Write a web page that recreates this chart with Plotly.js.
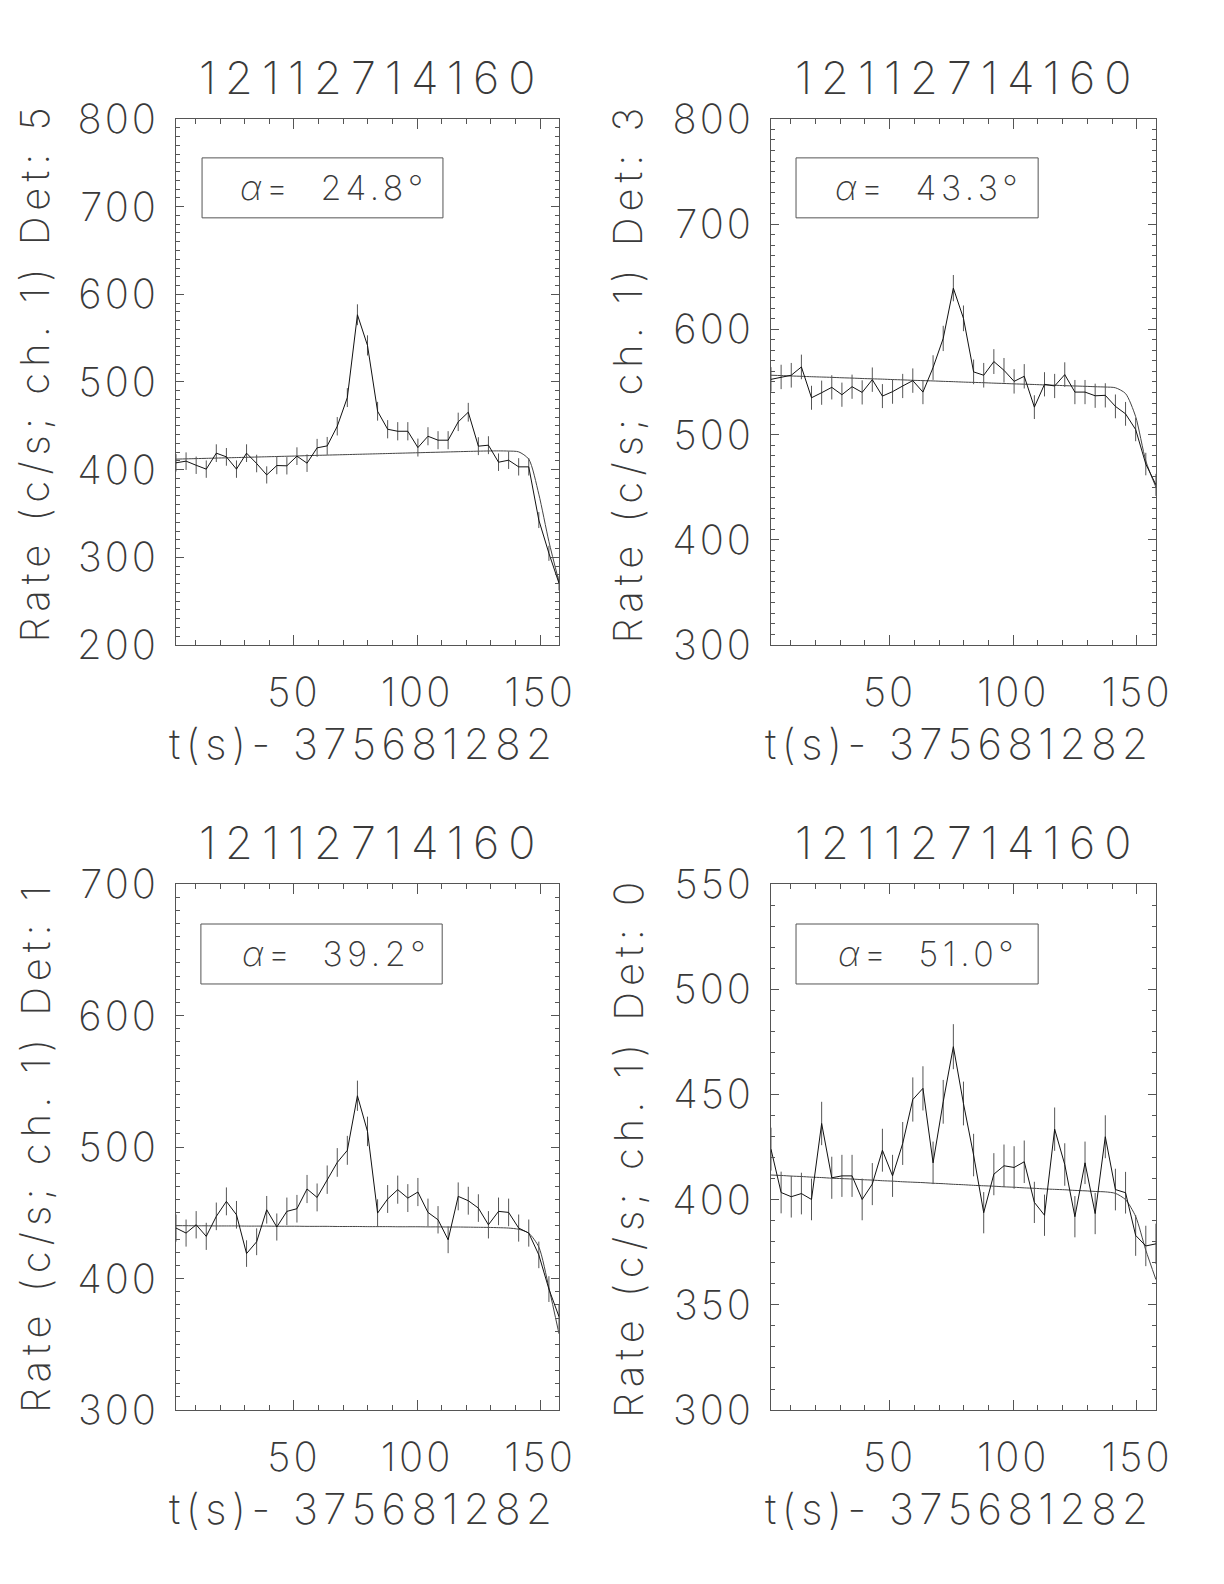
<!DOCTYPE html>
<html>
<head>
<meta charset="utf-8">
<script src="https://cdn.plot.ly/plotly-3.0.1.min.js"></script>
<style>
  html, body { margin: 0; padding: 0; background: #fff; }
  .main-svg text { letter-spacing: 3px; }
</style>
</head>
<body>
<div id="chart" style="width:1224px;height:1584px;"></div>
<script>
// ---------------- data ----------------
const timeOffsets = [2.05, 6.14, 10.24, 14.34, 18.43, 22.53, 26.62, 30.72, 34.82, 38.91, 43.01, 47.10, 51.20, 55.30, 59.39, 63.49, 67.58, 71.68, 75.78, 79.87, 83.97, 88.06, 92.16, 96.26, 100.35, 104.45, 108.54, 112.64, 116.74, 120.83, 124.93, 129.02, 133.12, 137.22, 141.31, 145.41, 149.50, 153.60, 157.70];

const plotTitle = "12112714160";
const xAxisTitle = "t(s)- 375681282";
const xTickValues = [50, 100, 150];

const detectorLabels = ["Det: 5", "Det: 3", "Det: 1", "Det: 0"];
const alphaAngles = ["24.8", "43.3", "39.2", "51.0"];
const yRanges = [[200, 800], [300, 800], [300, 700], [300, 550]];
const yTickSteps = [100, 100, 100, 50];

const rateDet5 = [407.8, 409.7, 405, 400.6, 418.8, 414.6, 400.6, 418.8, 407, 394, 404.7, 404.4, 415.4, 407.4, 424.9, 427.1, 449.5, 482.2, 576.7, 541.7, 466.6, 446.1, 443.8, 443.8, 425.2, 438.1, 433.6, 433.6, 454.5, 465.5, 426.8, 427.9, 408.5, 410.8, 403.2, 403.2, 342.5, 304.6, 270.4];
const errDet5 = [9.9, 10, 9.9, 9.9, 10.1, 10.1, 9.9, 10.1, 10, 9.8, 9.9, 9.9, 10.1, 10, 10.2, 10.2, 10.5, 10.8, 11.9, 11.5, 10.7, 10.4, 10.4, 10.4, 10.2, 10.3, 10.3, 10.3, 10.5, 10.7, 10.2, 10.2, 10, 10, 9.9, 9.9, 9.1, 8.6, 8.1];
const modelDet5 = [412.0, 412.3, 412.6, 412.9, 413.2, 413.5, 413.8, 414.1, 414.4, 414.7, 415.0, 415.3, 415.6, 416.0, 416.3, 416.6, 416.9, 417.2, 417.5, 417.8, 418.1, 418.4, 418.7, 419.0, 419.3, 419.6, 419.9, 420.2, 420.5, 420.8, 421.1, 421.3, 421.4, 421.2, 420.3, 412, 372, 318, 272];

const rateDet3 = [552.5, 554.8, 556.4, 564.3, 535, 539.8, 544.9, 537.9, 545.5, 540.1, 552.2, 536.6, 540.8, 546.2, 551.3, 540.4, 563.7, 591.4, 639.2, 610.5, 559.6, 556.4, 569.4, 561.1, 550.6, 555.4, 526.1, 547.8, 546.2, 557, 540.4, 540.4, 536.9, 537.3, 526.8, 519.7, 504.8, 472, 452.2];
const errDet3 = [11.6, 11.6, 11.7, 11.7, 11.4, 11.5, 11.5, 11.5, 11.5, 11.5, 11.6, 11.4, 11.5, 11.5, 11.6, 11.5, 11.7, 12, 12.5, 12.2, 11.7, 11.7, 11.8, 11.7, 11.6, 11.6, 11.3, 11.5, 11.5, 11.7, 11.5, 11.5, 11.5, 11.5, 11.3, 11.3, 11.1, 10.7, 10.5];
const modelDet3 = [556.4, 556.1, 555.7, 555.4, 555.0, 554.7, 554.4, 554.0, 553.7, 553.3, 553.0, 552.7, 552.3, 552.0, 551.6, 551.3, 551.0, 550.6, 550.3, 549.9, 549.6, 549.3, 548.9, 548.6, 548.2, 547.9, 547.6, 547.2, 546.9, 546.5, 546.2, 545.9, 545.5, 545.2, 544.5, 539.0, 517.0, 475.0, 450.0];

const rateDet1 = [438.4, 434.6, 440.9, 432.1, 447.3, 458.7, 448.5, 419, 428, 452.3, 439.2, 451.1, 453.1, 468.1, 461.7, 475.2, 488.3, 497.5, 539, 511.9, 449.8, 460.5, 467.6, 461.2, 465.8, 450.3, 444.7, 429.5, 462.5, 459.2, 453.6, 440.9, 451.1, 450.3, 438.4, 434.6, 418, 392, 371];
const errDet1 = [10.3, 10.3, 10.4, 10.3, 10.5, 10.6, 10.5, 10.1, 10.2, 10.5, 10.3, 10.5, 10.5, 10.7, 10.6, 10.8, 10.9, 11, 11.5, 11.2, 10.5, 10.6, 10.7, 10.6, 10.7, 10.5, 10.4, 10.2, 10.6, 10.6, 10.5, 10.4, 10.5, 10.5, 10.3, 10.3, 10.1, 9.8, 9.5];
const modelDet1 = [440.2, 440.2, 440.1, 440.1, 440.0, 440.0, 440.0, 439.9, 439.9, 439.9, 439.8, 439.8, 439.8, 439.7, 439.7, 439.7, 439.6, 439.6, 439.6, 439.5, 439.5, 439.5, 439.4, 439.4, 439.4, 439.3, 439.3, 439.2, 439.2, 439.1, 439.0, 438.9, 438.7, 438.4, 437.5, 434.5, 424, 393, 358];

const rateDet0 = [424, 403.4, 401.4, 402.9, 400.1, 436.2, 410.4, 411.3, 411.3, 400.1, 407.4, 423.5, 411.3, 426.7, 447.6, 452.9, 417.5, 446.5, 472.7, 445.7, 421.2, 393.8, 412.1, 416.1, 415.3, 418, 398.7, 392.6, 433.5, 416.7, 391.9, 417.5, 393.4, 429.9, 404.8, 403.3, 383, 378, 379];
const errDet0 = [10.2, 9.9, 9.9, 9.9, 9.9, 10.3, 10, 10, 10, 9.9, 10, 10.2, 10, 10.2, 10.5, 10.5, 10.1, 10.4, 10.7, 10.4, 10.1, 9.8, 10, 10.1, 10.1, 10.1, 9.8, 9.8, 10.3, 10.1, 9.8, 10.1, 9.8, 10.2, 9.9, 9.9, 9.7, 9.6, 9.6];
const modelDet0 = [411.7, 411.5, 411.2, 411.0, 410.7, 410.5, 410.2, 410.0, 409.8, 409.5, 409.3, 409.0, 408.8, 408.5, 408.3, 408.1, 407.8, 407.6, 407.3, 407.1, 406.8, 406.6, 406.4, 406.1, 405.9, 405.6, 405.4, 405.1, 404.9, 404.7, 404.4, 404.2, 403.9, 403.7, 403.0, 400.0, 392.0, 376.0, 362.0];

const rates = [rateDet5, rateDet3, rateDet1, rateDet0];
const errors = [errDet5, errDet3, errDet1, errDet0];
const models = [modelDet5, modelDet3, modelDet1, modelDet0];

// ---------------- layout helpers ----------------
const FONT = "Inter, Roboto, 'DejaVu Sans', Arial, sans-serif";
const TXT = "#3a3a3a";
const AX = "#555";
const W = 200;

const xDomains = [[0.1438, 0.4567], [0.6299, 0.9444], [0.1438, 0.4567], [0.6299, 0.9444]];
const yDomains = [[0.5928, 0.9249], [0.5928, 0.9249], [0.1098, 0.4419], [0.1098, 0.4419]];
const yTitleX = [0.0286, 0.513, 0.0286, 0.513];
const yTitleY = [0.518, 0.518, 0.5, 0.5];
const boxX = [[0.068, 0.697], [0.065, 0.694], [0.065, 0.695], [0.065, 0.694]];
const boxY = [[0.812, 0.926], [0.812, 0.926], [0.810, 0.924], [0.810, 0.924]];
const alphaTextX = [0.412, 0.408, 0.417, 0.408];

function spaced(t, px) { return '<span style="letter-spacing:' + px + 'px">' + t + '</span>'; }

const traces = [];
const layout = {
  width: 1224, height: 1584,
  margin: {l: 0, r: 0, t: 0, b: 0},
  paper_bgcolor: "#fff", plot_bgcolor: "#fff",
  showlegend: false,
  font: {family: FONT, size: 40, color: TXT, weight: W},
  annotations: [], shapes: []
};

for (let k = 0; k < 4; k++) {
  const s = k === 0 ? "" : String(k + 1);
  const xa = "x" + s, ya = "y" + s;
  traces.push({
    x: timeOffsets, y: models[k], xaxis: xa, yaxis: ya,
    type: "scatter", mode: "lines",
    line: {color: "#444", width: 1, shape: "spline", smoothing: 0.7},
    hoverinfo: "skip"
  });
  traces.push({
    x: timeOffsets, y: rates[k], xaxis: xa, yaxis: ya,
    type: "scatter", mode: "lines",
    line: {color: "#111", width: 1},
    error_y: {type: "data", array: errors[k], visible: true, color: "#555", thickness: 1, width: 0}
  });

  layout["xaxis" + s] = {
    domain: xDomains[k], anchor: ya,
    range: [timeOffsets[0], timeOffsets[timeOffsets.length - 1]],
    tickmode: "linear", tick0: 0, dtick: xTickValues[1] - xTickValues[0],
    showline: true, linecolor: AX, linewidth: 1, mirror: "allticks",
    ticks: "inside", ticklen: 10, tickwidth: 1, tickcolor: AX,
    minor: {dtick: 10, tick0: 0, ticks: "inside", ticklen: 5, tickwidth: 1, tickcolor: AX, showgrid: false},
    showgrid: false, zeroline: false,
    tickfont: {family: FONT, size: 40, color: TXT, weight: W},
    ticklabelstandoff: 12
  };
  layout["yaxis" + s] = {
    domain: yDomains[k], anchor: xa,
    range: yRanges[k],
    tickmode: "linear", tick0: 0, dtick: yTickSteps[k],
    showline: true, linecolor: AX, linewidth: 1, mirror: "allticks",
    ticks: "inside", ticklen: 8, tickwidth: 1, tickcolor: AX,
    minor: {dtick: 10, tick0: 0, ticks: "inside", ticklen: 4, tickwidth: 1, tickcolor: AX, showgrid: false},
    showgrid: false, zeroline: false,
    tickfont: {family: FONT, size: 40, color: TXT, weight: W},
    ticklabelstandoff: 8
  };

  // panel title
  layout.annotations.push({
    xref: xa + " domain", yref: ya + " domain", x: 0.51, y: 1.078,
    xanchor: "center", yanchor: "middle", showarrow: false,
    text: spaced(plotTitle, 9), font: {family: FONT, size: 45, color: TXT, weight: W}
  });
  // x axis title
  layout.annotations.push({
    xref: xa + " domain", yref: ya + " domain", x: 0.49, y: -0.188,
    xanchor: "center", yanchor: "middle", showarrow: false,
    text: spaced(xAxisTitle, 5.5), font: {family: FONT, size: 42, color: TXT, weight: W}
  });
  // y axis title
  layout.annotations.push({
    xref: "paper", yref: ya + " domain", x: yTitleX[k], y: yTitleY[k],
    xanchor: "center", yanchor: "middle", showarrow: false, textangle: -90,
    text: spaced("Rate (c/s; ch. 1) " + detectorLabels[k], 6),
    font: {family: FONT, size: 40, color: TXT, weight: W}
  });
  // alpha box
  layout.shapes.push({
    type: "rect", xref: xa + " domain", yref: ya + " domain",
    x0: boxX[k][0], x1: boxX[k][1], y0: boxY[k][0], y1: boxY[k][1],
    line: {color: "#555", width: 1}, fillcolor: "rgba(0,0,0,0)"
  });
  layout.annotations.push({
    xref: xa + " domain", yref: ya + " domain", x: alphaTextX[k], y: (boxY[k][0] + boxY[k][1]) / 2,
    xanchor: "center", yanchor: "middle", showarrow: false,
    text: spaced("<i>\u03b1</i>=\u00a0\u00a0" + alphaAngles[k] + "\u00b0", 4.5),
    font: {family: FONT, size: 34, color: TXT, weight: W}
  });
}

Plotly.newPlot("chart", traces, layout, {displayModeBar: false, staticPlot: true});
</script>
</body>
</html>
